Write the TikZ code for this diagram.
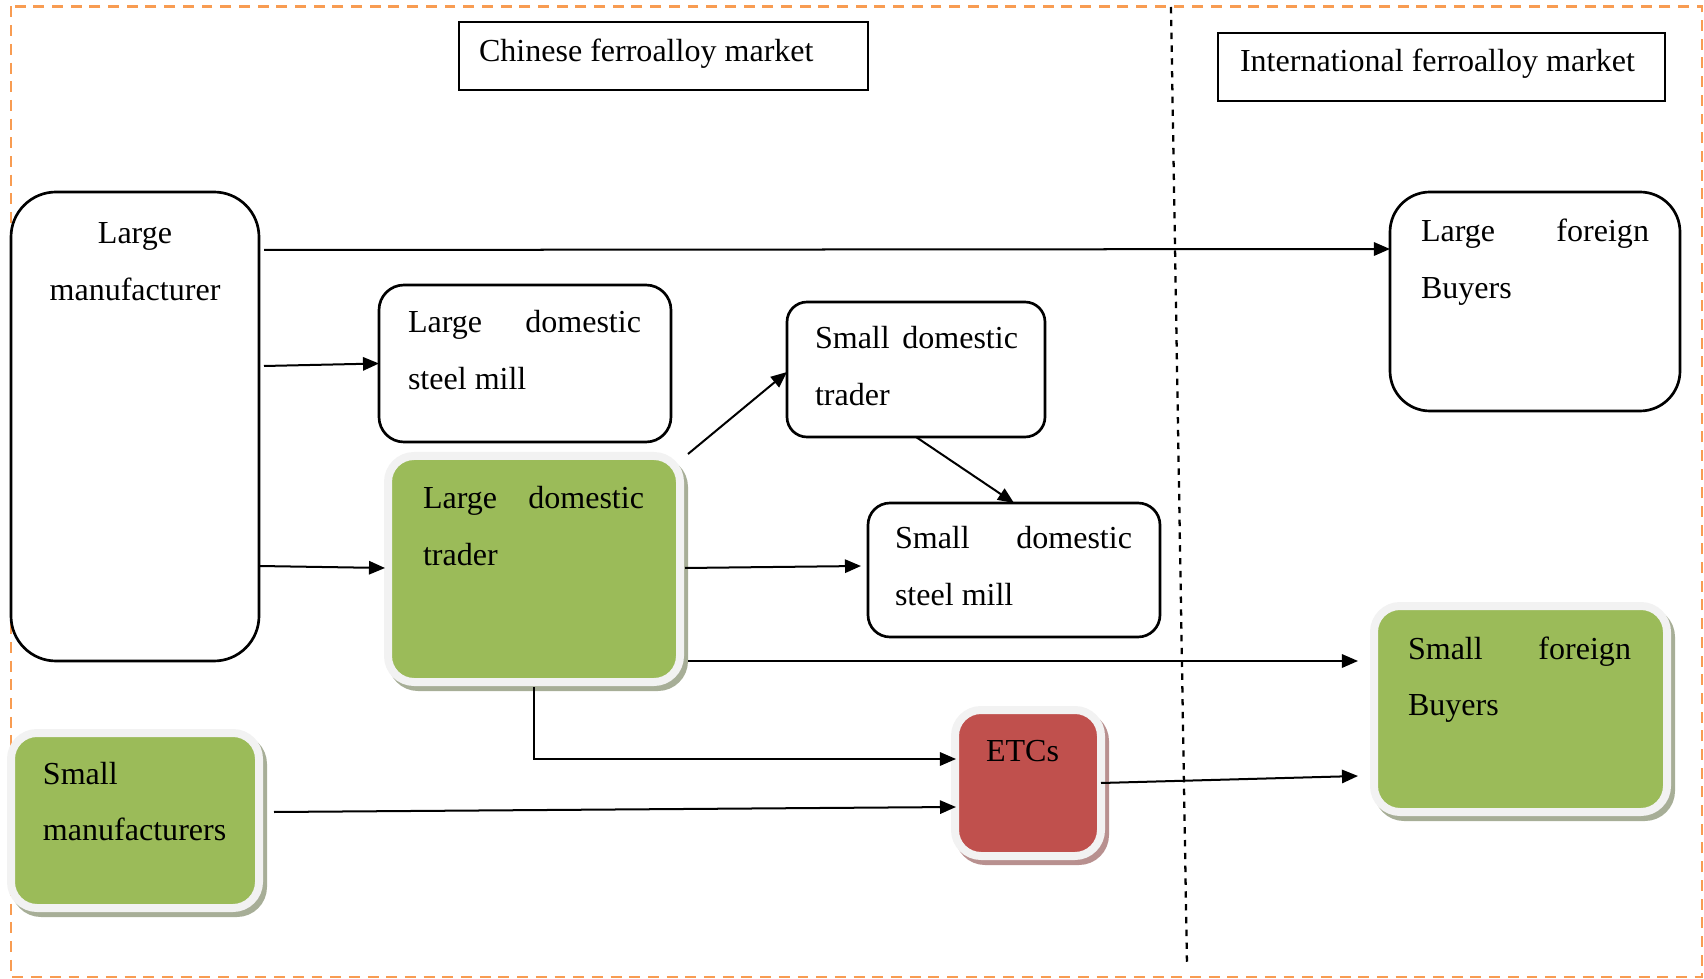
\documentclass[tikz,border=0pt]{standalone}
\usepackage{fontspec}
\setmainfont{Liberation Serif}
\usetikzlibrary{calc,arrows.meta}

% one drawing unit, used for lengths as well as coordinates
\newdimen\pxu \pxu=0.3745pt
% a line of box text set to a fixed width
\newcommand\jline[2]{\hbox to #1\pxu{#2}}

\definecolor{frameorange}{HTML}{F89C52}
\definecolor{boxgreen}{HTML}{9BBB59}
\definecolor{boxred}{HTML}{C0504D}
\definecolor{bandgrey}{HTML}{F2F2F2}
\definecolor{shadegreen}{HTML}{A7AE97}
\definecolor{shadered}{HTML}{B8908F}

\tikzset{
  every node/.style={inner sep=0pt, outer sep=0pt, font=\fontsize{12}{21}\selectfont},
  plainbox/.style={draw=black, line width=1pt, fill=white, rounded corners=#1},
  titlebox/.style={draw=black, line width=0.9pt},
  filledbox/.style 2 args={fill=#1, draw=bandgrey, line width=8\pxu, rounded corners=26\pxu,
    preaction={fill=#2, draw=#2, line width=8\pxu,
      transform canvas={xshift=4\pxu, yshift=-5\pxu}}},
  flow/.style={line width=0.75pt, -{Triangle[length=6pt,width=5pt]}},
  boxtext/.style={anchor=base west},
}

\begin{document}
\begin{tikzpicture}[x=0.3745pt, y=-0.3745pt]
\useasboundingbox (0,0) rectangle (1704,979);

% outer frame and the market divide
\draw[frameorange, line width=1.1pt, dash pattern=on 4.1pt off 2.9pt] (11,6.5) rectangle (1702,977);
\coordinate (divtop) at (1171,7);
\coordinate (divbot) at (1187,966);
\draw[line width=0.85pt, dash pattern=on 2.4pt off 2.4pt] (divtop) -- (divbot);

% market titles
\node[titlebox, minimum width=409\pxu, minimum height=68\pxu] (cfm) at (663.5,56) {};
\node[boxtext] (cfmtxt) at (479,62) {Chinese ferroalloy market};
\node[titlebox, minimum width=447\pxu, minimum height=68\pxu] (ifm) at (1441.5,67) {};
\node[boxtext] (ifmtxt) at (1240,72) {International ferroalloy market};

% white boxes
\node[plainbox=45\pxu, minimum width=248\pxu, minimum height=469\pxu] (lm) at (135,426.5) {};
\node[boxtext] (lmtxt) at (11,244)
  {\vtop{\jline{248}{\hfil Large\hfil}\jline{248}{\hfil manufacturer\hfil}}};

\node[plainbox=25\pxu, minimum width=292\pxu, minimum height=157\pxu] (ldsm) at (525,363.5) {};
\node[boxtext] (ldsmtxt) at (408,333)
  {\vtop{\jline{233}{Large\hfill domestic}\jline{233}{steel mill\hfill}}};

\node[plainbox=20\pxu, minimum width=258\pxu, minimum height=135\pxu] (sdt) at (916,369.5) {};
\node[boxtext] (sdttxt) at (815,349)
  {\vtop{\jline{203}{Small\hfill domestic}\jline{203}{trader\hfill}}};

\node[plainbox=22\pxu, minimum width=292\pxu, minimum height=134\pxu] (sdsm) at (1014,570) {};
\node[boxtext] (sdsmtxt) at (895,549)
  {\vtop{\jline{237}{Small\hfill domestic}\jline{237}{steel mill\hfill}}};

\node[plainbox=40\pxu, minimum width=290\pxu, minimum height=219\pxu] (lfb) at (1535,301.5) {};
\node[boxtext] (lfbtxt) at (1421,242)
  {\vtop{\jline{228}{Large\hfill foreign}\jline{228}{Buyers\hfill}}};

% shaded boxes
\node[filledbox={boxgreen}{shadegreen}, minimum width=292\pxu, minimum height=226\pxu] (ldt) at (534,569) {};
\node[boxtext] (ldttxt) at (423,509)
  {\vtop{\jline{221}{Large\hfill domestic}\jline{221}{trader\hfill}}};

\node[filledbox={boxgreen}{shadegreen}, minimum width=293\pxu, minimum height=206\pxu] (sfb) at (1520.5,709) {};
\node[boxtext] (sfbtxt) at (1408,659)
  {\vtop{\jline{223}{Small\hfill foreign}\jline{223}{Buyers\hfill}}};

\node[filledbox={boxgreen}{shadegreen}, minimum width=248\pxu, minimum height=175\pxu] (sm) at (135,820.5) {};
\node[boxtext] (smtxt) at (43,784)
  {\vtop{\hbox{Small}\hbox{manufacturers}}};

\node[filledbox={boxred}{shadered}, minimum width=146\pxu, minimum height=146\pxu] (etc) at (1028,783) {};
\node[boxtext] (etctxt) at (986,761) {ETCs};

% flows
\draw[flow] ($(lm.north east)+(5,58)$) -- ($(lfb.north west)+(0,57)$);
\draw[flow] ($(lm.north east)+(5,174)$) -- (ldsm.west);
\draw[flow] ($(lm.east)+(0,139.5)$) -- ($(ldt.west)+(-3,-1)$);
\draw[flow] ($(ldt.north east)+(8,-2)$) -- ($(sdt.west)+(0,2.5)$);
\draw[flow] (sdt.south) -- (sdsm.north);
\draw[flow] ($(ldt.east)+(5,-1)$) -- ($(sdsm.west)+(-7,-4)$);
\draw[flow] ($(ldt.south east)+(8,-21)$) -- ($(sfb.west)+(-16,-48)$);
\draw[flow] ($(ldt.south)+(0,5)$) |- ($(etc.west)+(1,-24)$);
\draw[flow] ($(sm.east)+(15,-8.5)$) -- ($(etc.west)+(1,24)$);
\draw[flow] (etc.east) -- ($(sfb.west)+(-16,67)$);
\end{tikzpicture}
\end{document}
